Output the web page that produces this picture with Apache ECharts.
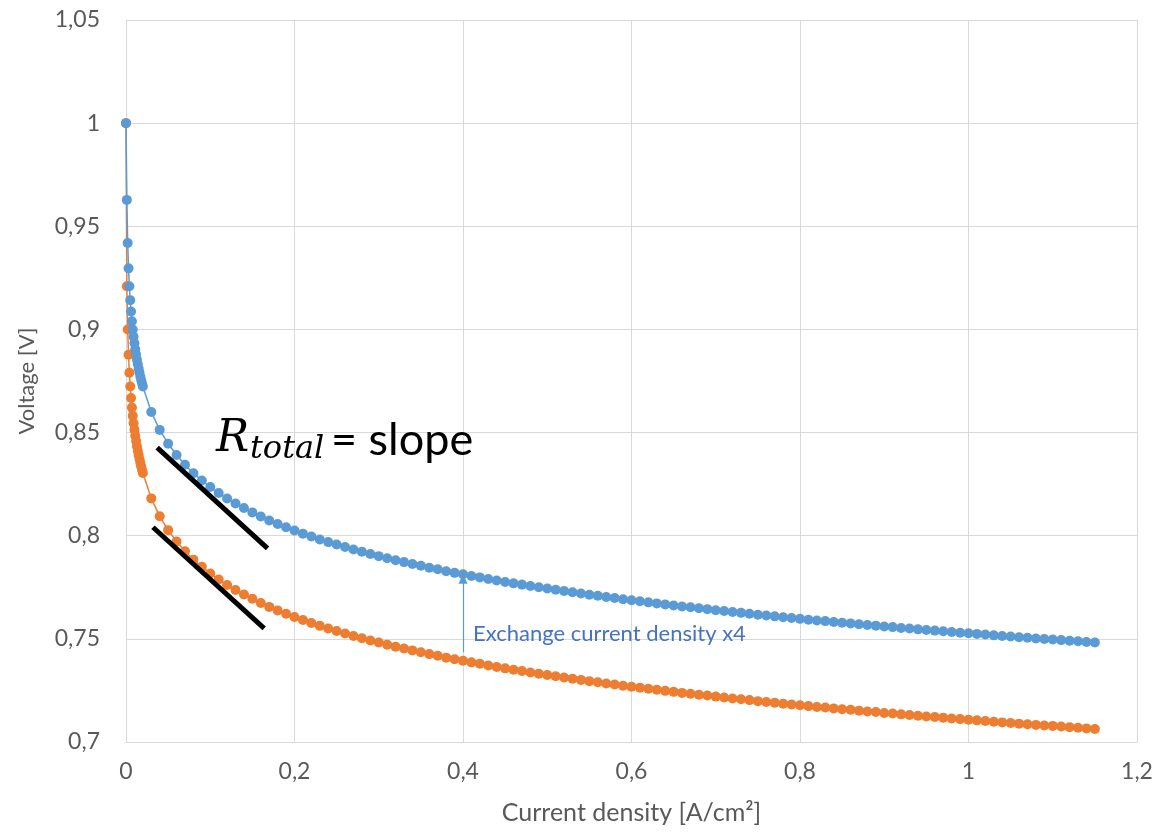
<!DOCTYPE html>
<html>
<head>
<meta charset="utf-8">
<title>Polarization curves</title>
<script src="https://cdn.jsdelivr.net/npm/echarts@6/dist/echarts.min.js"></script>
<style>
  html, body { margin: 0; padding: 0; background: #ffffff; }
  #chart { width: 1166px; height: 837px; }
</style>
</head>
<body>
<div id="chart"></div>
<script>
// Current density [A/cm²]: fine steps near open circuit, then 0.01 steps
const currentDensity = [
  0, 0.001, 0.002, 0.003, 0.004, 0.005, 0.006, 0.007, 0.008, 0.009, 0.010,
  0.011, 0.012, 0.013, 0.014, 0.015, 0.016, 0.017, 0.018, 0.019, 0.020,
  0.03, 0.04, 0.05, 0.06, 0.07, 0.08, 0.09, 0.10, 0.11, 0.12, 0.13, 0.14, 0.15,
  0.16, 0.17, 0.18, 0.19, 0.20, 0.21, 0.22, 0.23, 0.24, 0.25, 0.26, 0.27, 0.28,
  0.29, 0.30, 0.31, 0.32, 0.33, 0.34, 0.35, 0.36, 0.37, 0.38, 0.39, 0.40, 0.41,
  0.42, 0.43, 0.44, 0.45, 0.46, 0.47, 0.48, 0.49, 0.50, 0.51, 0.52, 0.53, 0.54,
  0.55, 0.56, 0.57, 0.58, 0.59, 0.60, 0.61, 0.62, 0.63, 0.64, 0.65, 0.66, 0.67,
  0.68, 0.69, 0.70, 0.71, 0.72, 0.73, 0.74, 0.75, 0.76, 0.77, 0.78, 0.79, 0.80,
  0.81, 0.82, 0.83, 0.84, 0.85, 0.86, 0.87, 0.88, 0.89, 0.90, 0.91, 0.92, 0.93,
  0.94, 0.95, 0.96, 0.97, 0.98, 0.99, 1.00, 1.01, 1.02, 1.03, 1.04, 1.05, 1.06,
  1.07, 1.08, 1.09, 1.10, 1.11, 1.12, 1.13, 1.14, 1.15
];

// Cell voltage [V] with the higher exchange current density (x4)
const voltageHighI0 = [
  1.0000, 0.9628, 0.9419, 0.9296, 0.9209, 0.9142, 0.9087, 0.9040, 0.9000, 0.8964, 0.8933,
  0.8904, 0.8878, 0.8853, 0.8831, 0.8810, 0.8791, 0.8772, 0.8755, 0.8739, 0.8723,
  0.8600, 0.8513, 0.8446, 0.8391, 0.8344, 0.8303, 0.8268, 0.8236, 0.8207, 0.8180, 0.8156, 0.8134, 0.8113,
  0.8093, 0.8074, 0.8057, 0.8041, 0.8025, 0.8010, 0.7996, 0.7982, 0.7969, 0.7957, 0.7945, 0.7933, 0.7922,
  0.7911, 0.7901, 0.7891, 0.7881, 0.7872, 0.7863, 0.7854, 0.7845, 0.7837, 0.7828, 0.7820, 0.7813, 0.7805,
  0.7798, 0.7790, 0.7783, 0.7776, 0.7769, 0.7763, 0.7756, 0.7750, 0.7744, 0.7738, 0.7732, 0.7726, 0.7720,
  0.7714, 0.7709, 0.7703, 0.7698, 0.7692, 0.7687, 0.7682, 0.7677, 0.7672, 0.7667, 0.7662, 0.7657, 0.7653,
  0.7648, 0.7644, 0.7639, 0.7635, 0.7630, 0.7626, 0.7622, 0.7617, 0.7613, 0.7609, 0.7605, 0.7601, 0.7597,
  0.7593, 0.7589, 0.7586, 0.7582, 0.7578, 0.7575, 0.7571, 0.7567, 0.7564, 0.7560, 0.7557, 0.7553, 0.7550,
  0.7546, 0.7543, 0.7540, 0.7537, 0.7533, 0.7530, 0.7527, 0.7524, 0.7521, 0.7517, 0.7514, 0.7511, 0.7508,
  0.7505, 0.7502, 0.7499, 0.7497, 0.7494, 0.7491, 0.7488, 0.7485, 0.7482
];

// Cell voltage [V] with the base exchange current density
const voltageBaseI0 = [
  1.0000, 0.9209, 0.9000, 0.8877, 0.8790, 0.8723, 0.8668, 0.8621, 0.8581, 0.8545, 0.8514,
  0.8485, 0.8459, 0.8434, 0.8412, 0.8391, 0.8372, 0.8353, 0.8336, 0.8320, 0.8304,
  0.8181, 0.8094, 0.8027, 0.7972, 0.7925, 0.7884, 0.7849, 0.7817, 0.7788, 0.7761, 0.7737, 0.7715, 0.7694,
  0.7674, 0.7655, 0.7638, 0.7622, 0.7606, 0.7591, 0.7577, 0.7563, 0.7550, 0.7538, 0.7526, 0.7514, 0.7503,
  0.7492, 0.7482, 0.7472, 0.7462, 0.7453, 0.7444, 0.7435, 0.7426, 0.7418, 0.7409, 0.7401, 0.7394, 0.7386,
  0.7379, 0.7371, 0.7364, 0.7357, 0.7350, 0.7344, 0.7337, 0.7331, 0.7325, 0.7319, 0.7313, 0.7307, 0.7301,
  0.7295, 0.7290, 0.7284, 0.7279, 0.7273, 0.7268, 0.7263, 0.7258, 0.7253, 0.7248, 0.7243, 0.7238, 0.7234,
  0.7229, 0.7225, 0.7220, 0.7216, 0.7211, 0.7207, 0.7203, 0.7198, 0.7194, 0.7190, 0.7186, 0.7182, 0.7178,
  0.7174, 0.7170, 0.7167, 0.7163, 0.7159, 0.7156, 0.7152, 0.7148, 0.7145, 0.7141, 0.7138, 0.7134, 0.7131,
  0.7127, 0.7124, 0.7121, 0.7118, 0.7114, 0.7111, 0.7108, 0.7105, 0.7102, 0.7098, 0.7095, 0.7092, 0.7089,
  0.7086, 0.7083, 0.7080, 0.7078, 0.7075, 0.7072, 0.7069, 0.7066, 0.7063
];

// Straight tangent segments illustrating the linear (ohmic) region
const tangentUpper = [[0.037, 0.8427], [0.168, 0.7939]];
const tangentLower = [[0.032, 0.8041], [0.164, 0.7551]];

// Arrow showing the voltage gain at 0.4 A/cm²
const arrowX = 0.4;
const arrowFrom = 0.7436;
const arrowTo = 0.7791;

const xTicks = { min: 0, max: 1.2, step: 0.2 };
const yTicks = { min: 0.7, max: 1.05, step: 0.05 };

const BLUE = '#5B9BD5';
const ORANGE = '#ED7D31';
const GRID = '#D9D9D9';
const TEXT = '#595959';

const pairs = (xs, ys) => xs.map((x, i) => [x, ys[i]]);
const commaNum = v => String(+v.toFixed(2)).replace('.', ',');

const chart = echarts.init(document.getElementById('chart'), null, { renderer: 'canvas' });

const curveStyle = color => ({
  type: 'line',
  symbol: 'circle',
  symbolSize: 10,
  showSymbol: true,
  lineStyle: { color: color, width: 1.5 },
  itemStyle: { color: color, borderWidth: 0 },
  emphasis: { disabled: true },
  silent: true
});

chart.setOption({
  animation: false,
  backgroundColor: '#ffffff',
  textStyle: { fontFamily: 'Lato, "Open Sans", sans-serif' },
  grid: { left: 126, right: 29, top: 20, bottom: 95, containLabel: false },
  xAxis: {
    type: 'value',
    min: xTicks.min, max: xTicks.max, interval: xTicks.step,
    name: 'Current density [A/cm²]',
    nameLocation: 'middle',
    nameGap: 58,
    nameTextStyle: { color: TEXT, fontSize: 25, fontFamily: 'Lato' },
    axisLine: { show: true, lineStyle: { color: GRID, width: 1 } },
    axisTick: { show: false },
    axisLabel: { color: TEXT, fontSize: 23, margin: 18, formatter: commaNum },
    splitLine: { show: true, lineStyle: { color: GRID, width: 1 } }
  },
  yAxis: {
    type: 'value',
    min: yTicks.min, max: yTicks.max, interval: yTicks.step,
    name: 'Voltage [V]',
    nameLocation: 'middle',
    nameGap: 88,
    nameRotate: 90,
    nameTextStyle: { color: TEXT, fontSize: 22, fontFamily: 'Lato' },
    axisLine: { show: true, lineStyle: { color: GRID, width: 1 } },
    axisTick: { show: false },
    axisLabel: { color: TEXT, fontSize: 23, margin: 26, formatter: commaNum },
    splitLine: { show: true, lineStyle: { color: GRID, width: 1 } }
  },
  series: [
    Object.assign(curveStyle(ORANGE), {
      name: 'Base exchange current density',
      data: pairs(currentDensity, voltageBaseI0),
      z: 2
    }),
    Object.assign(curveStyle(BLUE), {
      name: 'Exchange current density x4',
      data: pairs(currentDensity, voltageHighI0),
      z: 3,
      markLine: {
        silent: true,
        symbol: ['none', 'triangle'],
        symbolSize: [9, 10],
        label: { show: false },
        lineStyle: { color: BLUE, width: 1.2, type: 'solid' },
        data: [[{ coord: [arrowX, arrowFrom] }, { coord: [arrowX, arrowTo] }]]
      }
    }),
    {
      type: 'line',
      data: tangentUpper,
      symbol: 'none',
      lineStyle: { color: '#000000', width: 5, cap: 'butt' },
      silent: true,
      z: 5
    },
    {
      type: 'line',
      data: tangentLower,
      symbol: 'none',
      lineStyle: { color: '#000000', width: 5, cap: 'butt' },
      silent: true,
      z: 5
    }
  ],
  graphic: [
    {
      type: 'text', z: 10, silent: true,
      style: {
        x: 216, y: 440, text: 'R',
        font: 'italic 44px "DejaVu Serif"', fill: '#000000',
        align: 'left', verticalAlign: 'middle'
      }
    },
    {
      type: 'text', z: 10, silent: true,
      style: {
        x: 250, y: 450, text: 'total',
        font: 'italic 32px "DejaVu Serif"', fill: '#000000',
        align: 'left', verticalAlign: 'middle'
      }
    },
    {
      type: 'text', z: 10, silent: true,
      style: {
        x: 331, y: 440, text: '= slope',
        font: '45px Lato', fill: '#000000',
        align: 'left', verticalAlign: 'middle'
      }
    },
    {
      type: 'text', z: 10, silent: true,
      style: {
        x: 473, y: 634, text: 'Exchange current density x4',
        font: '22px Lato', fill: '#4472C4',
        align: 'left', verticalAlign: 'middle'
      }
    }
  ]
});
</script>
</body>
</html>
